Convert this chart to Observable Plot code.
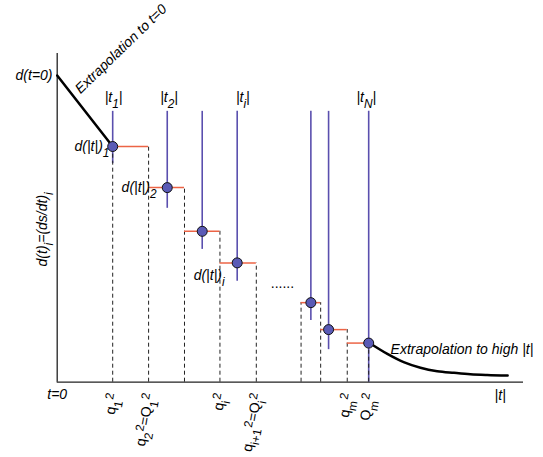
<!DOCTYPE html>
<html><head><meta charset="utf-8">
<script src="https://cdn.jsdelivr.net/npm/d3@7"></script>
<script src="https://cdn.jsdelivr.net/npm/@observablehq/plot@0.6"></script>
<style>body{margin:0;background:#fff} svg{display:block}</style>
</head><body><div id="chart"></div>
<script>
const tPoints = [11.9, 23.6, 31.1, 38.6, 54.4, 58.2, 66.8];
const dPoints = [71.7, 59.2, 45.9, 36.3, 24.2, 16.0, 11.9];
const errTop = [82.4, 82.4, 82.4, 82.4, 82.4, 82.4, 82.4];
const errBottom = [66.5, 52.9, 40.4, 30.7, 18.8, 9.9, 0];
// bins
const binLo = [11.9, 19.6, 27.3, 34.9, 52.3, 56.5, 62.2];
const binHi = [19.6, 27.3, 34.9, 42.7, 56.5, 62.2, 66.8];
// extrapolations
const extrapLowT = [0, 11.9];
const extrapLowD = [93.3, 71.7];
const extrapHighT = [66.9, 70.8, 74.3, 77.9, 81.5, 85.1, 88.6, 92.2, 96.6];
const extrapHighD = [12.0, 8.6, 6.1, 4.4, 3.35, 2.85, 2.43, 2.2, 2.04];
// labels
const pointLabels = ["|t_{1}|", "|t_{2}|", "", "|t_{i}|", "", "", "|t_{N}|"];
const valueLabels = ["d(|t|)_{1}", "d(|t|)_{2}", "", "d(|t|)_{i}", "", "", ""];
const tickEdges = [11.9, 19.6, 34.9, 42.7, 62.2, 66.8];
const tickLabels = ["q_{1}^{2}", "q_{2}^{2}=Q_{1}^{2}", "q_{i}^{2}", "q_{i+1}^{2}=Q_{i}^{2}", "q_{m}^{2}", "Q_{m}^{2}"];

// annotation layout (data units)
const pointLabelX = [12.1, 24.0, null, 39.8, null, null, 66.3];
const pointLabelY = 85.1;
const valueLabelX = [11.2, 21.3, null, 35.9, null, null, null];
const valueLabelY = [70.2, 58.0, null, 31.2, null, null, null];

const points = tPoints.map((t, i) => ({t, d: dPoints[i], lo: errBottom[i], hi: errTop[i]}));
const bins = binLo.map((lo, i) => ({lo, hi: binHi[i], d: dPoints[i]}));
const edgeMap = new Map();
bins.forEach(b => {
  for (const e of [b.lo, b.hi]) edgeMap.set(e, Math.max(edgeMap.get(e) ?? 0, b.d));
});
const edges = Array.from(edgeMap, ([x, h]) => ({x, h}));
const lowLine = extrapLowT.map((t, i) => ({t, d: extrapLowD[i]}));
const highLine = extrapHighT.map((t, i) => ({t, d: extrapHighD[i]}));
const topLabels = pointLabels.map((s, i) => ({s, x: pointLabelX[i]})).filter(d => d.s);
const valLabels = valueLabels.map((s, i) => ({s, x: valueLabelX[i], y: valueLabelY[i]})).filter(d => d.s);
const ticks = tickEdges.map((x, i) => ({x, s: tickLabels[i]}));

const font = "Liberation Sans, Arial, Helvetica, sans-serif";
const purple = "#5a4fae";
const orange = "#ec6446";

const chart = Plot.plot({
  width: 543, height: 457,
  marginLeft: 56.7, marginRight: 20, marginTop: 53, marginBottom: 75.3,
  x: {domain: [0, 100], axis: null},
  y: {domain: [0, 100], axis: null},
  style: {fontFamily: font, background: "#fff", overflow: "visible"},
  marks: [
    Plot.ruleY([0], {stroke: "#222", strokeWidth: 1.3}),
    Plot.ruleX([0], {stroke: "#222", strokeWidth: 1.3}),
    Plot.ruleX(points, {x: "t", y1: "lo", y2: "hi", stroke: purple, strokeWidth: 1.6}),
    Plot.ruleX(edges, {x: "x", y1: 0, y2: "h", stroke: "#222", strokeWidth: 1, strokeDasharray: "4,3"}),
    Plot.ruleY(bins, {y: "d", x1: "lo", x2: "hi", stroke: orange, strokeWidth: 1.5}),
    Plot.line(lowLine, {x: "t", y: "d", stroke: "#000", strokeWidth: 2.5}),
    Plot.line(highLine, {x: "t", y: "d", stroke: "#000", strokeWidth: 2.5, curve: "monotone-x"}),
    Plot.dot(points, {x: "t", y: "d", r: 5, fill: "#5a5ab6", stroke: "#111", strokeWidth: 1}),
    // texts
    Plot.text(topLabels, {x: "x", y: pointLabelY, text: "s", fontSize: 14, fontStyle: "italic", lineAnchor: "bottom", textAnchor: "middle"}),
    Plot.text(valLabels, {x: "x", y: "y", text: "s", fontSize: 14, fontStyle: "italic", lineAnchor: "bottom", textAnchor: "end"}),
    Plot.text(ticks, {x: "x", y: -3.4, text: "s", fontSize: 14, rotate: -80, lineAnchor: "middle", textAnchor: "end", dx: 1}),
    Plot.text(["d(t=0)"], {x: -1.0, y: 91.8, text: d => d, fontSize: 14, fontStyle: "italic", lineAnchor: "bottom", textAnchor: "end"}),
    Plot.text(["Extrapolation to t=0"], {x: 5.0, y: 87.6, text: d => d, fontSize: 14, fontStyle: "italic", lineAnchor: "bottom", textAnchor: "start", rotate: -44}),
    Plot.text(["Extrapolation to high |t|"], {x: 71.5, y: 8.7, text: d => d, fontSize: 14, fontStyle: "italic", lineAnchor: "bottom", textAnchor: "start"}),
    Plot.text(["......"], {x: 45.8, y: 28.8, text: d => d, fontSize: 14, lineAnchor: "bottom", textAnchor: "start"}),
    Plot.text(["t=0"], {x: 0, y: -5.0, text: d => d, fontSize: 14, fontStyle: "italic", lineAnchor: "bottom", textAnchor: "middle"}),
    Plot.text(["|t|"], {x: 95.0, y: -5.3, text: d => d, fontSize: 14, fontStyle: "italic", lineAnchor: "bottom", textAnchor: "middle"}),
    Plot.text(["d(t)_{i}=(ds/dt)_{i}"], {x: -3.15, y: 46.5, text: d => d, fontSize: 14, fontStyle: "italic", rotate: -90, lineAnchor: "middle", textAnchor: "middle"})
  ]
});

// turn _{..} / ^{..} markup into real sub/superscript tspans
chart.querySelectorAll("text").forEach(t => {
  const s = t.textContent;
  if (!/[_^]\{/.test(s)) return;
  t.textContent = "";
  const re = /([_^])\{([^}]*)\}/g;
  let last = 0, m;
  const add = (str, kind) => {
    if (!str) return;
    const ts = document.createElementNS("http://www.w3.org/2000/svg", "tspan");
    ts.textContent = str;
    if (kind === "_") { ts.setAttribute("baseline-shift", "-0.5em"); ts.setAttribute("font-size", "0.85em"); }
    if (kind === "^") { ts.setAttribute("baseline-shift", "0.3em"); ts.setAttribute("font-size", "0.85em"); }
    t.appendChild(ts);
  };
  while ((m = re.exec(s))) { add(s.slice(last, m.index), null); add(m[2], m[1]); last = re.lastIndex; }
  add(s.slice(last), null);
});

document.getElementById("chart").appendChild(chart);
</script>
</body></html>
